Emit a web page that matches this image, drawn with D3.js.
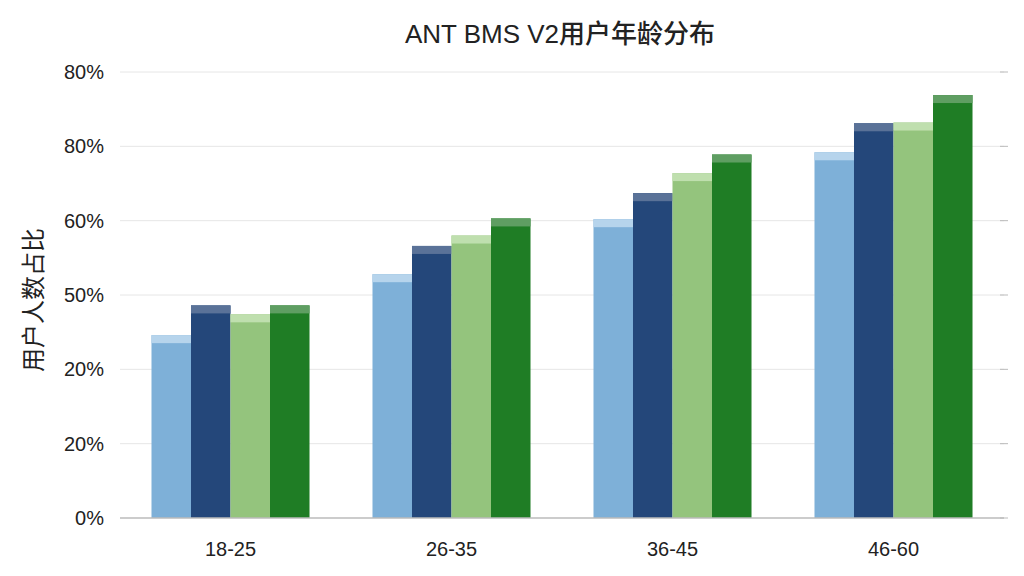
<!DOCTYPE html><html><head><meta charset="utf-8"><script src="https://cdn.jsdelivr.net/npm/d3@7"></script>
<style>body{margin:0;background:#fff}text{font-family:"Liberation Sans","Noto Sans CJK SC",sans-serif}</style></head><body><svg id="c" width="1024" height="576"></svg><script>
const categories=["18-25","26-35","36-45","46-60"];
const tickLabels=["0%","20%","20%","50%","60%","80%","80%"];
const seriesA=[2.46,3.28,4.02,4.92];
const seriesB=[2.86,3.66,4.37,5.31];
const seriesC=[2.74,3.80,4.64,5.32];
const seriesD=[2.86,4.03,4.89,5.69];
const series=[seriesA,seriesB,seriesC,seriesD];
const colors=["#7eb0d8","#24477a","#94c47d","#1f7d25"];
const caps=["#b6d4ec","#5a7298","#bfdfae","#5f9e62"];
const svg=d3.select("#c");
const y=d3.scaleLinear().domain([0,6]).range([518,72]);
const x=d3.scaleBand().domain(categories).range([120,1004]).paddingInner(0.285).paddingOuter(0.1425);
const xs=d3.scaleBand().domain(d3.range(4)).range([0,x.bandwidth()]);
svg.append("g").selectAll("line").data(d3.range(1,7)).join("line").attr("x1",120).attr("x2",1004).attr("y1",d=>y(d)).attr("y2",d=>y(d)).attr("stroke","#e6e6e6");
svg.append("g").selectAll("line").data(d3.range(0,7)).join("line").attr("x1",1000).attr("x2",1008).attr("y1",d=>y(d)).attr("y2",d=>y(d)).attr("stroke","#bbb");
svg.append("g").selectAll("text").data(tickLabels).join("text").attr("x",104).attr("y",(d,i)=>y(i)).attr("dy","0.35em").attr("text-anchor","end").attr("font-size",20).attr("fill","#222").text(d=>d);
series.forEach((s,k)=>{
 const g=svg.append("g");
 g.selectAll("rect.m").data(s).join("rect").attr("x",(d,i)=>x(categories[i])+xs(k)).attr("width",xs.bandwidth()).attr("y",d=>y(d)).attr("height",d=>518-y(d)).attr("fill",colors[k]);
 g.selectAll("rect.c").data(s).join("rect").attr("x",(d,i)=>x(categories[i])+xs(k)).attr("width",xs.bandwidth()).attr("y",d=>y(d)).attr("height",8).attr("fill",caps[k]);
});
svg.append("line").attr("x1",120).attr("x2",1004).attr("y1",518).attr("y2",518).attr("stroke","#bbb").attr("stroke-width",1.5);
svg.append("g").selectAll("text").data(categories).join("text").attr("x",d=>x(d)+x.bandwidth()/2).attr("y",556).attr("text-anchor","middle").attr("font-size",20).attr("fill","#222").text(d=>d);
svg.append("text").attr("x",560).attr("y",43).attr("text-anchor","middle").attr("font-size",26).attr("font-weight",500).attr("fill","#222").text("ANT BMS V2用户年龄分布");
svg.append("text").attr("transform","translate(42,300) rotate(-90)").attr("text-anchor","middle").attr("font-size",24).attr("fill","#222").text("用户人数占比");
</script></body></html>
